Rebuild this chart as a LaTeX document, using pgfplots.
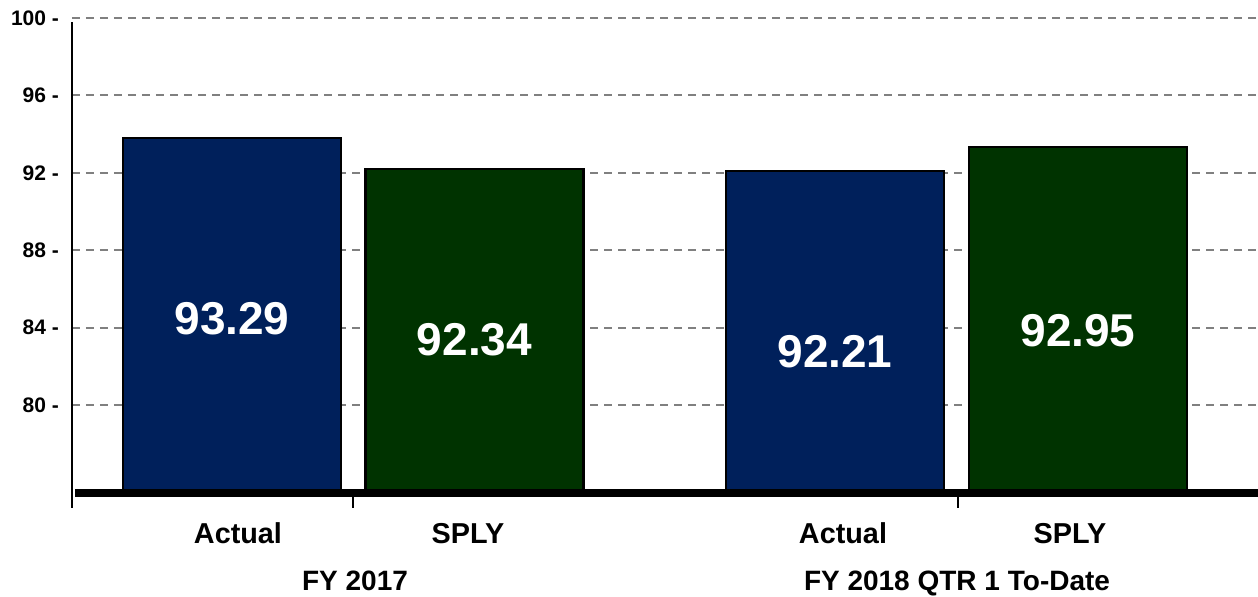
\documentclass[border=0pt]{standalone}
\usepackage{pgfplots}
\pgfplotsset{compat=1.18}
\usepackage{fontspec}
\setmainfont{Liberation Sans}
\definecolor{navybar}{RGB}{0,32,91}
\definecolor{greenbar}{RGB}{0,51,0}
\definecolor{gridgray}{RGB}{128,128,128}
\begin{document}
\begin{tikzpicture}
\begin{axis}[
  scale only axis,
  width=593pt, height=237.5pt,
  xmin=0, xmax=1186, ymin=75.45, ymax=100,
  clip mode=individual,
  axis line style={draw=none},
  major tick length=0pt,
  xtick=\empty,
  ytick={80,84,88,92,96,100},
  yticklabels={80 -,84 -,88 -,92 -,96 -,100 -},
  yticklabel style={font=\fontsize{10.5}{12}\selectfont\bfseries, xshift=-3pt},
  ymajorgrids,
  grid style={gridgray, line width=1pt, dash pattern=on 4pt off 3pt},
  ybar, bar shift=0pt, bar width=218,
]
\addplot[fill=navybar, draw=black, line width=1.3pt] coordinates {(160,93.80) (763,92.09)};
\addplot[fill=greenbar, draw=black, line width=1.3pt] coordinates {(402.5,92.20) (1006,93.33)};
% value labels
\node[text=white, font=\fontsize{23}{27}\selectfont\bfseries] at (axis cs:160,84.47) {93.29};
\node[text=white, font=\fontsize{23}{27}\selectfont\bfseries] at (axis cs:402.5,83.38) {92.34};
\node[text=white, font=\fontsize{23}{27}\selectfont\bfseries] at (axis cs:763,82.74) {92.21};
\node[text=white, font=\fontsize{23}{27}\selectfont\bfseries] at (axis cs:1006,83.82) {92.95};
% axis lines
\draw[line width=4pt] (axis cs:3,75.45) -- (axis cs:1186,75.45);
\draw[line width=0.7pt] (axis cs:0,99.79) -- (axis cs:0,74.68);
\draw[line width=0.7pt] (axis cs:281,75.45) -- (axis cs:281,74.68);
\draw[line width=0.7pt] (axis cs:886,75.45) -- (axis cs:886,74.68);
% category labels
\node[font=\fontsize{14.4}{17}\selectfont\bfseries, anchor=base] at (axis cs:166,72.82) {Actual};
\node[font=\fontsize{14.4}{17}\selectfont\bfseries, anchor=base] at (axis cs:396,72.82) {SPLY};
\node[font=\fontsize{14.4}{17}\selectfont\bfseries, anchor=base] at (axis cs:771,72.82) {Actual};
\node[font=\fontsize{14.4}{17}\selectfont\bfseries, anchor=base] at (axis cs:998,72.82) {SPLY};
\node[font=\fontsize{14}{17}\selectfont\bfseries, anchor=base] at (axis cs:283,70.39) {FY 2017};
\node[font=\fontsize{14}{17}\selectfont\bfseries, anchor=base] at (axis cs:885,70.39) {FY 2018 QTR 1 To-Date};
\coordinate (BL) at (axis cs:-72,70.08);
\coordinate (TR) at (axis cs:1186,100.93);
\end{axis}
\pgfresetboundingbox
\path[use as bounding box] (BL) rectangle (TR);
\end{tikzpicture}
\end{document}
